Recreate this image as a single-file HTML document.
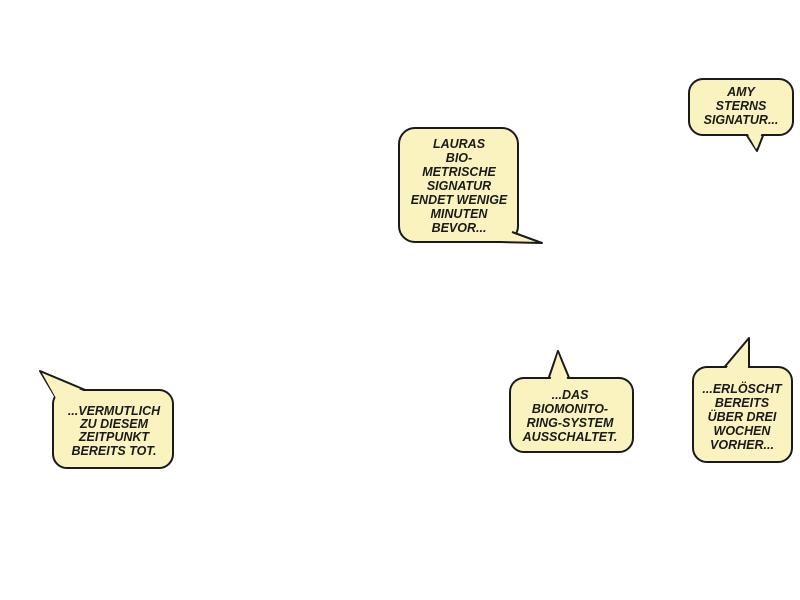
<!DOCTYPE html>
<html><head><style>
html,body{margin:0;padding:0;background:#fff;width:800px;height:600px;overflow:hidden}
svg text{font-family:"Liberation Sans",sans-serif;font-weight:bold;font-style:italic;font-size:12.5px;fill:#1a1a1a;text-anchor:middle}
</style></head><body>
<svg width="800" height="600" viewBox="0 0 800 600">
<g stroke="#1a1a1a" stroke-width="2" stroke-linejoin="round" fill="#fbf3bf">
 <!-- Lauras -->
 <rect x="399" y="128" width="119" height="114" rx="16"/>
 <polygon points="500,243 542,243 512,232" stroke="none"/>
 <polyline points="500,242 542,243 512,232" fill="none"/>
 <!-- Amy -->
 <polygon points="742,128 757,151 766,128"/>
 <rect x="689" y="79" width="104" height="56" rx="14"/>
 <polygon points="744,127 756,149 764,127" stroke="none"/>
 <!-- Vermutlich -->
 <polygon points="56,398 40,371 90,392"/>
 <rect x="53" y="390" width="120" height="78" rx="14"/>
 <polygon points="57,400 42,373 88,393" stroke="none"/>
 <!-- Das -->
 <polygon points="548,380 558,351 570,380"/>
 <rect x="510" y="378" width="123" height="74" rx="14"/>
 <polygon points="550,381 558,353 568,381" stroke="none"/>
 <!-- Erlöscht -->
 <polygon points="722,370 749,338 749,370"/>
 <rect x="693" y="367" width="99" height="95" rx="14"/>
 <polygon points="724,371 748,341 748,371" stroke="none"/>
</g>
<text x="459" y="148">LAURAS</text>
<text x="459" y="162">BIO-</text>
<text x="459" y="176">METRISCHE</text>
<text x="459" y="190">SIGNATUR</text>
<text x="459" y="204">ENDET WENIGE</text>
<text x="459" y="218">MINUTEN</text>
<text x="459" y="232">BEVOR...</text>
<text x="741" y="96">AMY</text>
<text x="741" y="110">STERNS</text>
<text x="741" y="124">SIGNATUR...</text>
<text x="114" y="415">...VERMUTLICH</text>
<text x="114" y="428">ZU DIESEM</text>
<text x="114" y="441">ZEITPUNKT</text>
<text x="114" y="455">BEREITS TOT.</text>
<text x="570" y="399">...DAS</text>
<text x="570" y="413">BIOMONITO-</text>
<text x="570" y="427">RING-SYSTEM</text>
<text x="570" y="441">AUSSCHALTET.</text>
<text x="742" y="393">...ERLÖSCHT</text>
<text x="742" y="407">BEREITS</text>
<text x="742" y="421">ÜBER DREI</text>
<text x="742" y="435">WOCHEN</text>
<text x="742" y="449">VORHER...</text>
</svg>
</body></html>
